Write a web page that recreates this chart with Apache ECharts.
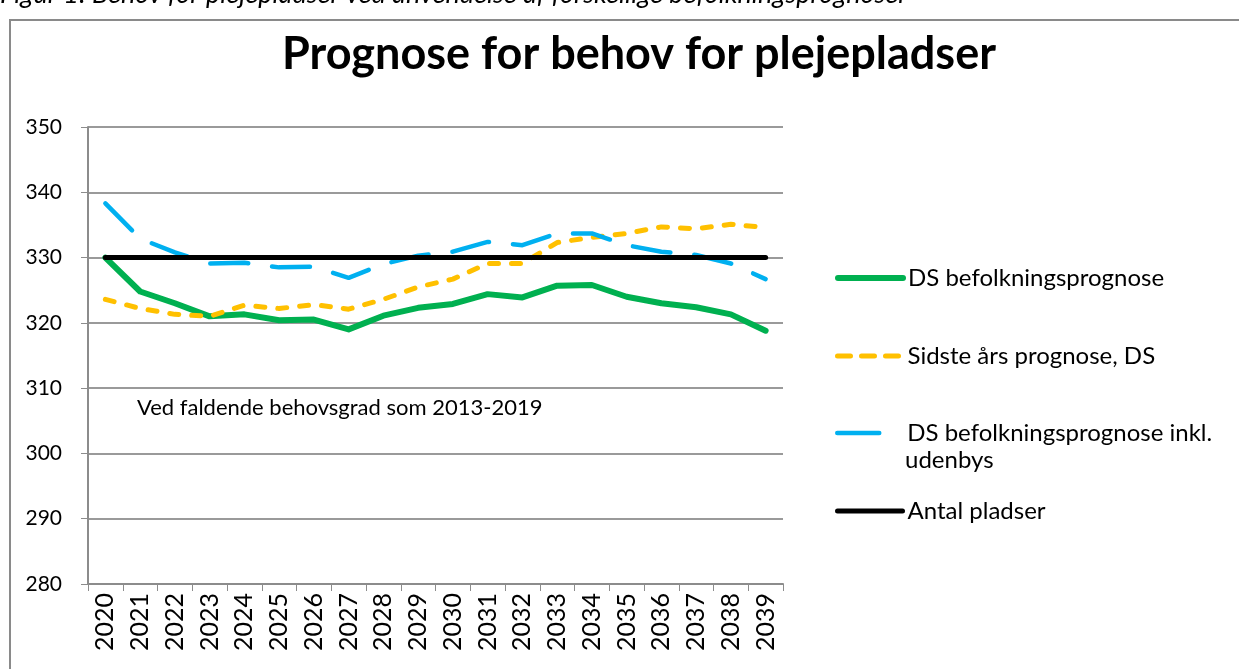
<!DOCTYPE html>
<html>
<head>
<meta charset="utf-8">
<script src="https://cdn.jsdelivr.net/npm/echarts@6/dist/echarts.min.js"></script>
<style>html,body{margin:0;padding:0;background:#fff;}#c{width:1239px;height:669px;}</style>
</head>
<body>
<div id="c"></div>
<script>
const years = ['2020','2021','2022','2023','2024','2025','2026','2027','2028','2029','2030','2031','2032','2033','2034','2035','2036','2037','2038','2039'];
const dsPrognose = [330.0, 324.8, 323.0, 321.0, 321.3, 320.4, 320.5, 319.0, 321.1, 322.3, 322.9, 324.4, 323.9, 325.7, 325.8, 324.0, 323.0, 322.4, 321.3, 318.8];
const sidsteAars = [323.6, 322.2, 321.3, 321.0, 322.7, 322.2, 322.8, 322.1, 323.6, 325.5, 326.7, 329.1, 329.1, 332.3, 333.1, 333.7, 334.7, 334.4, 335.1, 334.6];
const inklUdenbys = [338.3, 332.9, 330.8, 329.1, 329.2, 328.5, 328.6, 326.9, 329.0, 330.3, 330.9, 332.4, 331.9, 333.7, 333.7, 331.9, 330.9, 330.4, 329.1, 326.7];
const antalPladser = [330, 330, 330, 330, 330, 330, 330, 330, 330, 330, 330, 330, 330, 330, 330, 330, 330, 330, 330, 330];
const yTicks = {min: 280, max: 350, interval: 10};
const names = ['DS befolkningsprognose', 'Sidste års prognose, DS', 'DS befolkningsprognose inkl. udenbys', 'Antal pladser'];

const FONT = 'Lato';
const chart = echarts.init(document.getElementById('c'));
const legendText = {fontFamily: FONT, fontSize: 24, color: '#000'};
function leg(name, top, ls, extra) {
  return Object.assign({
    data: [name], left: 830, top: top, itemWidth: 65, itemHeight: 14, itemGap: 8,
    selectedMode: false, textStyle: legendText,
    itemStyle: {opacity: 0, color: 'transparent', borderWidth: 0},
    lineStyle: ls
  }, extra || {});
}
chart.setOption({
  animation: false,
  backgroundColor: '#fff',
  title: {
    text: 'Prognose for behov for plejepladser', left: 277, top: 27,
    textStyle: {fontFamily: FONT, fontWeight: 'bold', fontSize: 45, color: '#000'}
  },
  graphic: [
    {type: 'rect', shape: {x: 10, y: 20, width: 1300, height: 700}, style: {fill: null, stroke: '#8a8a8a', lineWidth: 2}},
    {type: 'text', left: 0, top: -19, style: {text: 'Figur 1: Behov for plejepladser ved anvendelse af forskellige befolkningsprognoser', font: 'italic 27px Lato', fill: '#000'}},
    {type: 'text', left: 137, top: 397, style: {text: 'Ved faldende behovsgrad som 2013-2019', font: '22px Lato', fill: '#000'}},
    {type: 'text', left: 905, top: 448, style: {text: 'udenbys', font: '24px Lato', fill: '#000'}}
  ],
  legend: [
    leg(names[0], 261, {width: 6, color: '#00B050', cap: 'round'}),
    leg(names[1], 339, {width: 5, color: '#FFC000', type: [13, 11], cap: 'round'}),
    leg(names[2], 416, {width: 4.5, color: '#00B0F0', type: [42, 30], cap: 'round'}, {formatter: function(){ return 'DS befolkningsprognose inkl.'; }}),
    leg(names[3], 494, {width: 5, color: '#000', cap: 'round'})
  ],
  grid: {left: 88, right: 456, top: 127, bottom: 85},
  xAxis: {
    type: 'category', data: years, boundaryGap: true,
    axisLine: {lineStyle: {color: '#8c8c8c', width: 2}},
    axisTick: {show: true, interval: 0, length: 7, lineStyle: {color: '#8c8c8c', width: 1}},
    axisLabel: {rotate: 90, interval: 0, fontFamily: FONT, fontSize: 25, color: '#000', margin: 9}
  },
  yAxis: {
    type: 'value', min: yTicks.min, max: yTicks.max, interval: yTicks.interval,
    axisLine: {show: true, lineStyle: {color: '#8c8c8c', width: 2}},
    axisTick: {show: true, length: 7, lineStyle: {color: '#8c8c8c', width: 1}},
    axisLabel: {fontFamily: FONT, fontSize: 21, color: '#000', margin: 26},
    splitLine: {show: true, lineStyle: {color: '#9a9a9a', width: 2}}
  },
  series: [
    {name: names[0], type: 'line', data: dsPrognose, symbol: 'none', color: '#00B050',
     lineStyle: {width: 6, color: '#00B050', cap: 'round', join: 'round'}},
    {name: names[1], type: 'line', data: sidsteAars, symbol: 'none', color: '#FFC000',
     lineStyle: {width: 5, color: '#FFC000', type: [9, 13], cap: 'round', join: 'round'}},
    {name: names[2], type: 'line', data: inklUdenbys, symbol: 'none', color: '#00B0F0',
     lineStyle: {width: 4.5, color: '#00B0F0', type: [38, 24], cap: 'round', join: 'round'}},
    {name: names[3], type: 'line', data: antalPladser, symbol: 'none', color: '#000',
     lineStyle: {width: 5, color: '#000', cap: 'round', join: 'round'}}
  ]
});
</script>
</body>
</html>
